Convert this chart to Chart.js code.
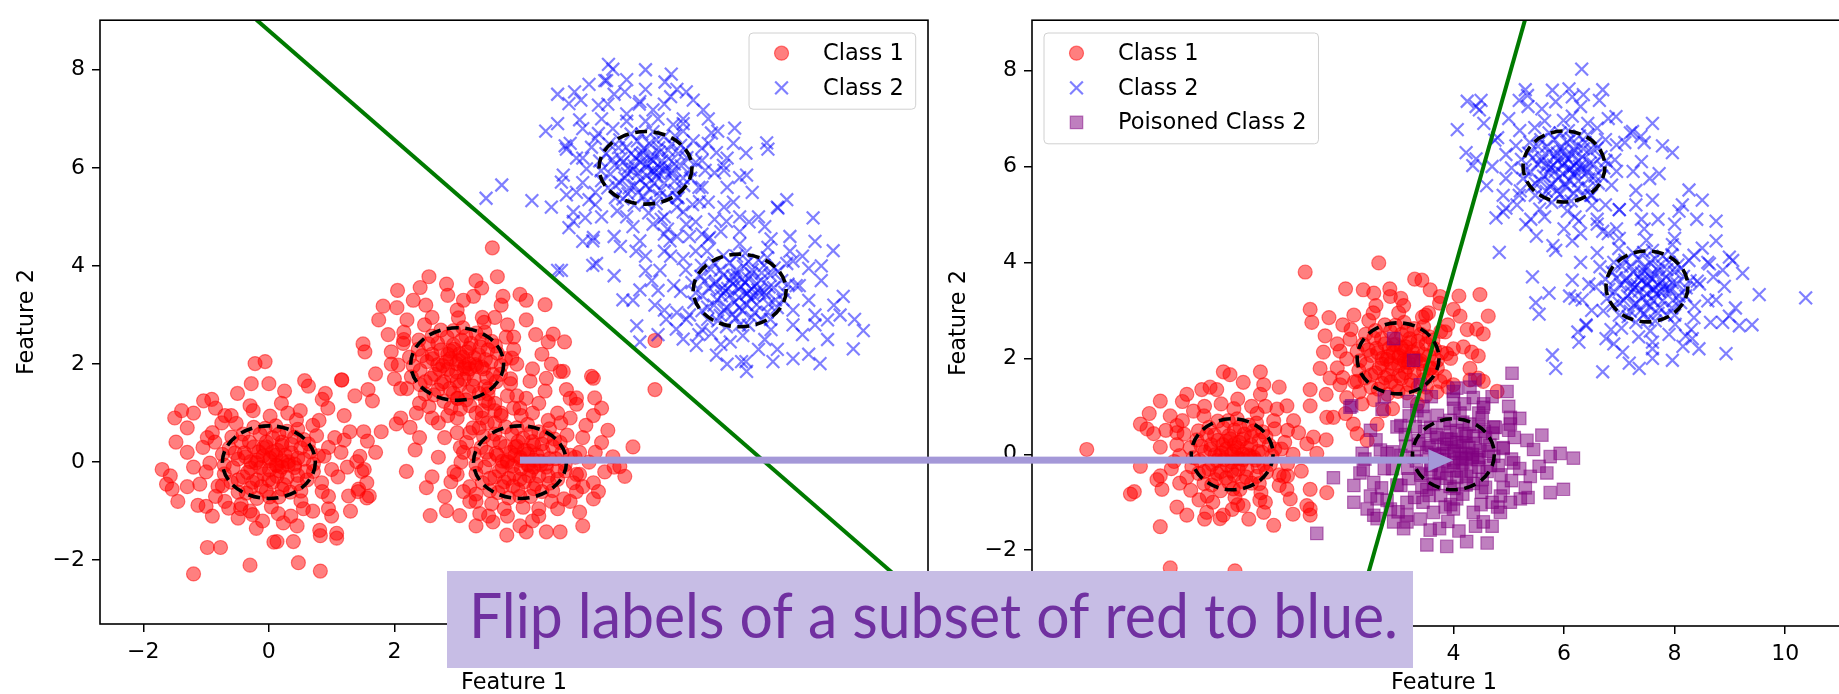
<!DOCTYPE html>
<html>
<head>
<meta charset="utf-8">
<script src="https://cdn.jsdelivr.net/npm/chart.js@4.4.1/dist/chart.umd.min.js"></script>
<style>
  html, body { margin: 0; padding: 0; background: #fff; width: 1839px; height: 694px; overflow: hidden; }
  canvas { position: absolute; top: 0; }
  #leftChart { left: 0; }
  #rightChart { left: 932px; }
  #overlay { left: 0; pointer-events: none; }
</style>
</head>
<body>
<canvas id="leftChart" width="960" height="694"></canvas>
<canvas id="rightChart" width="940" height="694"></canvas>
<canvas id="overlay" width="1839" height="694"></canvas>
<script>
// ---- data ----
const xTicks = [-2, 0, 2, 4, 6, 8, 10];
const yTicks = [-2, 0, 2, 4, 6, 8];
const leftXRange = [-2.69, 10.5];
const leftYRange = [-3.3, 9.01];
const rightXRange = [-3.62, 11.28];
const rightYRange = [-3.58, 9.05];

const clusterCenters = [[0, 0], [3, 2], [4, 0], [6, 6], [7.5, 3.5]];
const ringRadius = 0.74;

const leftBoundary = [[-0.2, 9.02], [10.6, -3.0]];
const rightBoundary = [[5.33, 9.2], [2.15, -3.75]];

const arrowFrom = [4, 0];  // left plot
const arrowTo = [4, 0];    // right plot
const calloutText = 'Flip labels of a subset of red to blue.';

const leftClass1 = [
  [-1.2,-2.28],[-0.98,-1.74],[-0.77,-1.74],[-0.3,-2.1],[0.47,-2.05],[0.82,-2.22],[0.13,-1.62],[0.39,-1.62],[0.82,-1.5],[1.08,-1.55],
  [0.57,1.66],[1.16,1.67],[-0.22,2.01],[-0.06,2.05],[-0.28,1.6],[0.0,1.6],[-1.39,1.05],[-1.04,1.25],[-0.91,1.28],[-1.48,0.41],
  [-1.7,-0.15],[-1.57,-0.28],[-1.63,-0.45],[-1.54,-0.55],[-1.13,-0.88],[-1.0,-0.9],[1.29,0.62],[1.51,0.62],[1.79,0.62],[1.57,0.43],
  [1.45,0.12],[1.52,-0.15],[1.56,-0.42],[1.6,-0.69],[1.27,-0.69],[1.43,-0.55],[0.63,1.55],[0.85,1.28],[0.94,1.1],[-0.26,-1.07],
  [0.23,-1.24],[0.08,-1.63],[-0.49,-1.14],[-0.64,-0.94],[-0.74,-0.48],[1.4,0.01],[1.48,-0.19],[1.42,-0.6],[1.56,-0.73],[0.81,-1.39],[1.08,-1.45],
  [-1.05,0.3],[-1.2,-0.1],[-0.9,0.6],[-0.6,0.95],[-0.3,1.15],[0.2,1.2],[0.5,1.05],[0.8,0.85],[1.05,0.5],[1.15,0.2],[1.1,-0.3],
  [0.95,-0.7],[0.7,-1.0],[0.35,-1.1],[-0.1,-1.2],[-0.45,-0.95],[-0.85,-0.7],[-1.1,-0.45],[-0.75,0.8],[0.95,-0.95],[1.2,0.95],[-1.3,0.7],
  [0.95,0.3],[1.0,-0.15],[0.85,-0.6],[0.55,-0.95],[0.15,-1.05],[-0.3,-1.0],[-0.7,-0.8],[-1.0,-0.2],[-0.98,0.5],[-0.7,0.95],
  [-0.25,1.05],[0.3,1.0],[0.7,0.75],[1.25,-0.1],[1.2,0.45],[-1.3,0.2],[-1.3,-0.5],[-0.9,-1.1],[-0.2,-1.35],[0.45,-1.3],
  [1.0,-1.1],[-1.5,0.9],[-0.5,1.4],[0.9,1.4],[-1.45,-0.8],[1.7,0.2],[-0.85,1.1],[0.25,1.45],[1.3,-1.0],[-1.2,1.0],
  [0.02,0.08],[-0.18,0.04],[0.17,-0.18],[-0.08,-0.24],[0.26,0.14],[-0.04,0.31],[0.31,-0.06],[-0.29,-0.12],[0.46,0.08],[0.36,0.36],
  [0.06,0.5],[-0.31,0.41],[-0.49,0.06],[-0.41,-0.3],[-0.12,-0.5],[0.24,-0.46],[0.46,-0.27],[0.14,0.24],[0.66,0.21],[0.56,0.46],
  [0.29,0.63],[-0.06,0.69],[-0.41,0.57],[-0.63,0.29],[-0.71,-0.06],[-0.6,-0.41],[-0.36,-0.63],[0.01,-0.71],[0.34,-0.61],[0.61,-0.36],
  [0.71,-0.04],[0.11,-0.06],[-0.16,0.21],[0.21,0.41],[-0.26,-0.41],[0.41,-0.11],[-0.39,0.19],[0.0,-0.36],[0.21,-0.1],[0.88,0.12],
  [0.76,0.54],[0.44,0.86],[0.02,0.94],[-0.52,0.79],[-0.86,0.41],[-0.94,-0.02],[-0.81,-0.49],[-0.44,-0.86],[0.04,-0.91],[0.51,-0.79],[0.84,-0.42],
  [0.11,0.14],[-0.09,0.13],[0.13,-0.07],[-0.13,-0.11],[0.01,-0.16],[0.21,0.03],[-0.21,-0.01],[0.06,0.21],[0.36,0.19],[0.21,0.34],
  [-0.04,0.41],[-0.24,0.31],[-0.37,0.11],[-0.34,-0.21],[-0.19,-0.36],[0.06,-0.41],[0.29,-0.31],[0.41,-0.04],[0.56,0.06],[0.51,0.29],
  [0.41,0.51],[0.16,0.57],[-0.14,0.57],[-0.44,0.41],[-0.54,0.19],[-0.57,-0.11],[-0.49,-0.36],[-0.29,-0.53],[-0.04,-0.59],[0.21,-0.55],
  [0.46,-0.44],[0.59,-0.19],[0.63,0.37],[0.46,0.67],[0.11,0.74],[-0.24,0.71],[-0.59,0.51],[-0.74,0.16],[-0.71,-0.24],[-0.49,-0.61],
  [-0.19,-0.74],[0.16,-0.71],[0.51,-0.59],[0.71,-0.19],[0.79,0.13],[0.31,0.01],[-0.09,0.29],[0.13,-0.29],[-0.29,0.01],[0.01,0.03],
  [3.56,4.37],[3.64,3.78],[2.55,3.78],[2.83,3.63],[2.41,3.56],[1.82,3.18],[2.04,3.15],[3.39,3.55],[3.26,3.38],[3.73,3.38],
  [4.0,3.42],[4.4,3.21],[4.53,2.61],[4.71,2.45],[4.45,2.45],[1.5,2.41],[1.53,2.25],[1.16,1.68],[1.37,1.35],[1.58,1.48],
  [4.69,1.85],[5.14,1.75],[4.9,1.31],[5.19,1.31],[6.15,2.48],[6.15,1.48],
  [2.2,2.9],[2.5,3.2],[3.0,3.1],[3.4,2.95],[3.8,2.8],[3.9,2.3],[3.85,1.7],[2.15,2.5],[1.95,2.0],[2.1,1.5],[2.4,1.2],[3.6,1.2],
  [4.2,1.9],[2.3,3.3],[4.1,2.9],[1.9,2.6],[1.7,1.8],[4.35,2.2],
  [3.95,2.0],[3.9,2.55],[3.6,2.95],[3.1,3.3],[2.6,2.95],[2.15,2.65],[1.95,2.25],[2.0,1.7],[2.35,1.0],[2.85,0.95],
  [3.4,1.05],[3.95,1.35],[4.25,2.6],[4.5,2.0],[2.85,3.4],[3.3,3.7],[1.75,2.9],[1.65,1.25],[2.1,0.9],[4.1,3.3],[3.7,3.2],[2.05,3.5],
  [3.03,2.07],[2.83,2.05],[3.16,1.81],[2.91,1.77],[3.27,2.13],[2.95,2.3],[3.31,1.95],[2.72,1.89],[3.45,2.09],[3.37,2.35],
  [3.07,2.49],[2.69,2.42],[2.52,2.05],[2.58,1.71],[2.88,1.5],[3.25,1.55],[3.47,1.72],[3.15,2.25],[3.64,2.22],[3.55,2.46],
  [3.3,2.63],[2.94,2.68],[2.6,2.57],[2.38,2.3],[2.3,1.96],[2.41,1.58],[2.63,1.37],[3.01,1.3],[3.35,1.4],[3.62,1.64],
  [3.7,1.97],[3.12,1.95],[2.85,2.2],[3.22,2.42],[2.75,1.6],[3.42,1.9],[2.6,2.2],[3.0,1.65],[3.2,1.9],[3.87,2.12],
  [3.78,2.55],[3.43,2.85],[3.02,2.94],[2.48,2.8],[2.14,2.42],[2.06,1.98],[2.2,1.5],[2.55,1.13],[3.05,1.08],[3.5,1.2],[3.85,1.6],
  [3.09,2.14],[2.89,2.11],[3.11,1.91],[2.85,1.89],[2.99,1.84],[3.19,2.01],[2.77,1.97],[3.04,2.21],[3.34,2.19],[3.19,2.32],
  [2.94,2.39],[2.74,2.29],[2.61,2.11],[2.64,1.79],[2.79,1.64],[3.04,1.57],[3.27,1.69],[3.39,1.94],[3.54,2.04],[3.49,2.29],
  [3.39,2.49],[3.14,2.57],[2.84,2.55],[2.54,2.41],[2.44,2.17],[2.41,1.87],[2.49,1.64],[2.69,1.47],[2.94,1.41],[3.19,1.43],
  [3.44,1.54],[3.57,1.79],[3.61,2.37],[3.44,2.65],[3.09,2.74],[2.74,2.69],[2.39,2.49],[2.24,2.14],[2.27,1.74],[2.49,1.39],
  [2.79,1.24],[3.14,1.27],[3.49,1.39],[3.69,1.79],[3.77,2.11],[3.29,1.99],[2.89,2.27],[3.11,1.69],[2.69,1.99],[2.99,2.01],
  [3.3,1.0],[3.6,0.8],[3.0,1.3],[3.5,1.5],[2.8,0.5],[3.2,0.6],[3.9,1.1],[2.6,0.9],[3.1,0.2],[2.7,0.1],[4.3,1.2],[4.6,1.0],[2.9,-0.4],[2.4,0.5],
  [3.4,0.9],[3.7,0.95],[3.2,1.15],[3.45,1.25],[3.8,1.35],[4.1,1.3],[3.0,0.9],[2.9,1.1],[3.35,0.7],[4.0,1.1],[4.4,1.45],[3.6,1.05],
  [2.19,-0.19],[2.51,-0.52],[2.33,0.25],[2.03,0.78],[2.25,0.71],[2.57,-1.09],[2.83,-0.99],[3.04,-1.09],[3.36,-1.05],[3.57,-1.22],
  [3.79,-1.49],[4.1,-1.42],[4.42,-1.42],[4.64,-1.42],[4.95,-1.02],[5.17,-0.75],[5.17,-0.42],[5.67,-0.29],[5.8,0.31],[5.48,0.11],
  [5.59,-0.09],[5.17,1.71],[5.17,0.95],[4.64,1.85],[4.74,1.48],[4.9,1.18],[4.42,1.71],[4.16,1.65],
  [5.0,0.5],[5.1,0.0],[5.0,-0.5],[4.8,0.9],[3.3,-0.8],[3.1,-0.6],[4.3,-1.1],[3.8,-1.1],[4.8,-0.8],[5.3,0.4],[2.6,-0.3],[5.35,-0.2],
  [4.9,-0.6],[4.6,-0.95],[4.2,-1.2],[3.5,-1.1],[3.2,-0.8],[2.95,-0.2],[5.2,0.2],[5.05,0.75],[4.9,-0.25],[3.0,0.6],
  [4.95,0.2],[4.95,-0.25],[4.7,-0.75],[4.3,-0.95],[3.75,-0.95],[3.3,-0.65],[3.0,-0.25],[3.05,0.3],[3.25,0.7],[3.7,1.0],
  [4.2,1.0],[4.65,0.8],[5.25,-0.6],[5.4,0.65],[4.0,-1.3],[3.3,-1.3],[2.8,-0.7],[5.0,-1.3],[4.8,1.3],[5.5,-0.1],[2.7,0.8],[5.3,1.1],
  [4.01,0.09],[3.8,0.03],[4.18,-0.17],[3.91,-0.25],[4.27,0.15],[3.95,0.32],[4.33,-0.05],[3.72,-0.1],[4.47,0.07],[4.35,0.37],
  [4.05,0.49],[3.68,0.4],[3.51,0.05],[3.6,-0.3],[3.89,-0.49],[4.25,-0.45],[4.45,-0.28],[4.15,0.23],[4.67,0.2],[4.55,0.47],
  [4.3,0.62],[3.95,0.7],[3.6,0.57],[3.38,0.3],[3.3,-0.05],[3.4,-0.42],[3.65,-0.62],[4.0,-0.7],[4.35,-0.6],[4.6,-0.35],
  [4.72,-0.05],[4.12,-0.05],[3.85,0.2],[4.2,0.42],[3.75,-0.4],[4.42,-0.1],[3.62,0.18],[4.0,-0.35],[4.22,-0.1],[4.88,0.1],
  [4.75,0.55],[4.45,0.85],[4.02,0.95],[3.48,0.8],[3.15,0.4],[3.06,0.0],[3.2,-0.5],[3.55,-0.85],[4.05,-0.92],[4.5,-0.8],[4.85,-0.42],
  [4.12,0.17],[3.92,0.14],[4.14,-0.06],[3.88,-0.08],[4.02,-0.13],[4.22,0.04],[3.8,0.0],[4.07,0.24],[4.37,0.22],[4.22,0.35],
  [3.97,0.42],[3.77,0.32],[3.64,0.14],[3.67,-0.18],[3.82,-0.33],[4.07,-0.4],[4.3,-0.28],[4.42,-0.03],[4.57,0.07],[4.52,0.32],
  [4.42,0.52],[4.17,0.6],[3.87,0.58],[3.57,0.44],[3.47,0.2],[3.44,-0.1],[3.52,-0.33],[3.72,-0.5],[3.97,-0.56],[4.22,-0.54],
  [4.47,-0.43],[4.6,-0.18],[4.64,0.4],[4.47,0.68],[4.12,0.77],[3.77,0.72],[3.42,0.52],[3.27,0.17],[3.3,-0.23],[3.52,-0.58],
  [3.82,-0.73],[4.17,-0.7],[4.52,-0.58],[4.72,-0.18],[4.8,0.14],[4.32,0.02],[3.92,0.3],[4.14,-0.28],[3.72,0.02],[4.02,0.04]
];

const leftClass2 = [
  [5.48,8.01],[5.38,7.78],[6.41,7.91],[6.31,7.75],[6.65,7.55],[6.76,7.38],[5.67,7.55],[5.91,7.35],[6.12,7.18],[4.87,7.55],
  [5.25,7.28],[4.95,6.98],[6.92,7.18],[7.05,6.71],[7.42,6.81],[7.93,6.51],[7.95,6.38],[7.61,5.85],[7.13,6.31],[7.24,6.05],
  [4.74,6.38],[4.69,5.85],[4.74,5.45],[4.85,4.91],[5.17,4.58],[5.22,4.05],[4.66,3.91],[3.46,5.38],[3.71,5.65],[4.19,5.33],
  [4.41,6.75],[4.6,3.91],[5.16,4.01],[4.78,7.31],[4.97,7.38],[4.72,6.45],[4.66,5.71],[4.78,4.78],[5.16,4.51],[5.04,4.98],
  [5.41,8.11],[5.35,7.78],[6.86,5.31],[7.29,4.91],[7.02,4.58],[6.65,4.85],[6.39,4.51],[6.12,4.85],[5.91,4.51],
  [5.3,7.0],[5.7,7.1],[6.3,7.3],[6.6,7.0],[7.0,6.5],[7.3,6.2],[7.3,5.6],[7.0,5.3],[6.8,4.9],[6.3,5.0],
  [5.8,4.8],[5.3,5.0],[4.9,5.5],[4.9,6.2],[5.0,6.8],[5.5,7.5],[6.0,7.6],[6.6,6.9],[5.2,6.6],[7.1,5.9],
  [5.1,7.7],[5.7,7.8],[6.0,8.0],[6.5,7.6],[7.0,7.0],[7.6,6.3],[4.6,6.9],[4.5,5.2],[5.0,4.5],
  [6.95,5.95],[6.9,6.4],[6.6,6.75],[6.2,7.0],[5.7,6.95],[5.25,6.7],[5.0,6.2],[5.0,5.7],[5.2,5.25],[5.7,5.0],
  [6.25,4.95],[6.75,5.25],[7.25,5.95],[7.15,6.75],[6.4,7.45],[5.4,7.3],[4.8,6.5],[4.85,5.1],[5.5,4.6],[6.9,4.65],
  [7.5,5.8],[5.9,7.3],[4.6,7.5],[7.4,6.5],[5.85,4.3],[6.5,5.4],[6.35,4.75],[5.1,5.35],
  [6.02,6.08],[5.82,6.04],[6.17,5.82],[5.92,5.76],[6.26,6.14],[5.96,6.31],[6.31,5.94],[5.71,5.88],[6.46,6.08],[6.36,6.36],
  [6.06,6.5],[5.69,6.41],[5.51,6.06],[5.59,5.7],[5.88,5.5],[6.24,5.54],[6.46,5.73],[6.14,6.24],[6.66,6.21],[6.56,6.46],
  [6.29,6.63],[5.94,6.69],[5.59,6.57],[5.37,6.29],[5.29,5.94],[5.4,5.59],[5.64,5.37],[6.01,5.29],[6.34,5.39],[6.61,5.64],
  [6.71,5.96],[6.11,5.94],[5.84,6.21],[6.21,6.41],[5.74,5.59],[6.41,5.89],[5.61,6.19],[6.0,5.64],[6.21,5.9],[6.9,6.15],
  [6.76,6.55],[6.44,6.88],[6.0,6.95],[5.48,6.8],[5.14,6.42],[5.06,5.98],[5.2,5.5],[5.55,5.12],[6.05,5.08],[6.5,5.2],[6.85,5.6],
  [6.12,6.14],[5.92,6.11],[6.14,5.91],[5.88,5.89],[6.02,5.84],[6.22,6.01],[5.8,5.97],[6.07,6.21],[6.37,6.19],[6.22,6.32],
  [5.97,6.39],[5.77,6.29],[5.64,6.11],[5.67,5.79],[5.82,5.64],[6.07,5.57],[6.3,5.69],[6.42,5.94],[6.57,6.04],[6.52,6.29],
  [6.42,6.49],[6.17,6.57],[5.87,6.55],[5.57,6.41],[5.47,6.17],[5.44,5.87],[5.52,5.64],[5.72,5.47],[5.97,5.41],[6.22,5.43],
  [6.47,5.54],[6.6,5.79],[6.64,6.37],[6.47,6.65],[6.12,6.74],[5.77,6.69],[5.42,6.49],[5.27,6.14],[5.3,5.74],[5.52,5.39],
  [5.82,5.24],[6.17,5.27],[6.52,5.39],[6.72,5.79],[6.8,6.11],[6.32,5.99],[5.92,6.27],[6.14,5.69],[5.72,5.99],[6.02,6.01],
  [6.5,4.6],[6.8,4.3],[7.1,4.95],[6.6,5.1],[6.9,5.6],[7.4,5.3],[7.7,5.5],[6.3,4.3],[6.0,4.2],[5.6,4.4],
  [5.5,3.8],[5.8,3.3],[6.1,3.7],[7.8,5.0],[8.3,4.3],[8.8,4.0],[9.0,3.2],[8.9,2.9],[8.6,2.2],[7.3,2.0],
  [5.64,3.31],[5.91,3.51],[5.86,2.78],[6.33,2.91],[6.23,3.91],[5.91,2.45],[6.6,2.51],[6.81,2.38],[7.13,2.18],[7.61,1.85],
  [7.53,2.05],[8.03,2.05],[8.35,2.11],[8.78,2.01],[9.31,2.31],[9.47,2.68],[9.33,2.91],[9.15,3.38],[8.99,4.31],[8.67,4.98],
  [8.25,5.35],[8.11,5.18],[6.49,2.71],[6.65,2.91],
  [8.6,3.3],[8.8,3.7],[8.5,4.2],[8.3,4.6],[7.9,4.8],[7.5,5.0],[7.2,4.7],[6.4,4.2],[6.2,3.5],[6.3,3.1],
  [8.9,2.5],[8.5,2.6],[7.8,2.3],[7.2,2.4],[6.9,2.7],[8.1,5.2],[8.7,3.0],[6.0,3.9],
  [8.45,3.6],[8.35,4.1],[8.0,4.55],[7.5,4.7],[7.0,4.55],[6.6,4.15],[6.45,3.6],[6.5,3.05],[6.85,2.6],[7.35,2.45],
  [7.9,2.5],[8.35,2.8],[8.6,3.95],[8.7,2.8],[6.15,3.2],[6.7,4.6],[7.65,4.9],[8.7,4.5],[6.2,2.6],[7.6,2.05],
  [8.1,2.3],[9.1,3.0],[6.3,4.65],[7.25,5.2],
  [7.52,3.58],[7.31,3.54],[7.68,3.33],[7.42,3.26],[7.77,3.64],[7.46,3.81],[7.82,3.45],[7.21,3.39],[7.97,3.57],[7.85,3.86],
  [7.56,3.99],[7.19,3.91],[7.01,3.55],[7.09,3.2],[7.38,3.01],[7.74,3.05],[7.96,3.22],[7.64,3.74],[8.17,3.7],[8.05,3.96],
  [7.8,4.12],[7.45,4.2],[7.09,4.06],[6.88,3.79],[6.8,3.45],[6.9,3.09],[7.15,2.88],[7.5,2.8],[7.85,2.9],[8.1,3.15],
  [8.22,3.46],[7.62,3.44],[7.35,3.7],[7.7,3.92],[7.25,3.1],[7.92,3.4],[7.12,3.68],[7.5,3.15],[7.72,3.4],[8.4,3.6],
  [8.25,4.05],[7.95,4.38],[7.5,4.45],[6.98,4.3],[6.64,3.92],[6.56,3.48],[6.7,3.0],[7.05,2.62],[7.55,2.58],[8.0,2.7],[8.35,3.1],
  [7.59,3.66],[7.39,3.63],[7.61,3.43],[7.35,3.41],[7.49,3.36],[7.69,3.53],[7.27,3.49],[7.54,3.73],[7.84,3.71],[7.69,3.84],
  [7.44,3.91],[7.24,3.81],[7.11,3.63],[7.14,3.31],[7.29,3.16],[7.54,3.09],[7.77,3.21],[7.89,3.46],[8.04,3.56],[7.99,3.81],
  [7.89,4.01],[7.64,4.09],[7.34,4.07],[7.04,3.93],[6.94,3.69],[6.91,3.39],[6.99,3.16],[7.19,2.99],[7.44,2.93],[7.69,2.95],
  [7.94,3.06],[8.07,3.31],[8.11,3.89],[7.94,4.17],[7.59,4.26],[7.24,4.21],[6.89,4.01],[6.74,3.66],[6.77,3.26],[6.99,2.91],
  [7.29,2.76],[7.64,2.79],[7.99,2.91],[8.19,3.31],[8.27,3.63],[7.79,3.51],[7.39,3.79],[7.61,3.21],[7.19,3.51],[7.49,3.53]
];

const rightClass1 = [
  [-2.63,0.1],[-1.84,-0.83],[-1.3,-1.51],[-1.66,-0.25],[-1.36,-0.53],[-1.27,-0.73],[-1.66,0.63],[-1.54,0.53],[-1.42,0.43],[-1.3,1.11],
  [-1.12,0.8],[-1.0,0.6],[-0.82,1.25],[-0.55,1.35],[-0.28,1.35],[-0.16,1.72],[-0.04,1.66],[0.51,1.72],[0.57,1.45],[0.51,1.25],
  [0.81,0.94],[0.99,1.01],[1.11,0.7],[1.35,0.22],[1.53,0.02],[1.41,-0.73],[1.71,-0.8],[1.35,-1.07],[1.41,-1.27],[0.75,-1.48],
  [0.57,-1.21],[0.2,-1.07],[-0.16,-1.27],[-0.46,-1.21],[-0.82,-1.27],[0.99,-0.73],[1.05,-0.93],[0.93,-0.46],[-1.12,-2.37],[0.05,-2.43],
  [1.41,-1.14],[-0.22,-1.34],[1.47,0.36],[-1.77,-0.78],
  [-1.0,0.2],[-1.1,-0.3],[-0.9,0.7],[-0.5,1.0],[0.1,1.15],[0.6,1.0],[1.0,0.5],[1.1,0.0],[1.0,-0.45],[0.6,-1.0],
  [0.0,-1.15],[-0.6,-0.95],[-0.95,-0.6],[-1.2,0.5],
  [0.95,0.25],[1.0,-0.2],[0.85,-0.65],[0.5,-0.95],[0.1,-1.05],[-0.35,-1.0],[-0.75,-0.75],[-1.05,-0.15],[-1.0,0.45],[-0.7,0.9],
  [-0.2,1.05],[0.35,1.0],[0.75,0.7],[1.25,-0.35],[1.2,0.45],[-1.3,0.15],[-1.3,-0.45],[-0.5,-1.35],[0.3,-1.35],[1.1,-1.25],
  [-1.5,0.85],[-0.4,1.4],[0.85,1.4],[1.7,0.3],[-0.9,1.1],[0.2,1.5],[-1.0,-1.1],
  [0.03,0.06],[-0.19,0.03],[0.16,-0.19],[-0.09,-0.23],[0.27,0.13],[-0.03,0.32],[0.32,-0.04],[-0.28,-0.13],[0.47,0.06],[0.35,0.37],
  [0.04,0.51],[-0.32,0.4],[-0.5,0.05],[-0.42,-0.31],[-0.11,-0.49],[0.25,-0.47],[0.47,-0.26],[0.13,0.25],[0.67,0.19],[0.55,0.47],
  [0.3,0.61],[-0.07,0.7],[-0.42,0.56],[-0.64,0.3],[-0.7,-0.07],[-0.61,-0.4],[-0.37,-0.64],[0.02,-0.72],[0.35,-0.6],[0.62,-0.37],
  [0.72,-0.03],[0.1,-0.07],[-0.17,0.2],[0.22,0.42],[-0.27,-0.4],[0.42,-0.12],[-0.38,0.2],[-0.01,-0.35],[0.2,-0.11],[0.89,0.11],
  [0.77,0.53],[0.45,0.85],[0.03,0.95],[-0.51,0.8],[-0.87,0.42],[-0.95,-0.03],[-0.82,-0.48],[-0.45,-0.87],[0.05,-0.9],[0.52,-0.8],[0.85,-0.43],
  [0.09,0.14],[-0.11,0.11],[0.11,-0.09],[-0.15,-0.11],[-0.01,-0.16],[0.19,0.01],[-0.23,-0.03],[0.04,0.21],[0.34,0.19],[0.19,0.32],
  [-0.06,0.39],[-0.26,0.29],[-0.39,0.11],[-0.36,-0.21],[-0.21,-0.36],[0.04,-0.43],[0.27,-0.31],[0.39,-0.06],[0.54,0.04],[0.49,0.29],
  [0.39,0.49],[0.14,0.57],[-0.16,0.55],[-0.46,0.41],[-0.56,0.17],[-0.59,-0.13],[-0.51,-0.36],[-0.31,-0.53],[-0.06,-0.59],[0.19,-0.57],
  [0.44,-0.46],[0.57,-0.21],[0.61,0.37],[0.44,0.65],[0.09,0.74],[-0.26,0.69],[-0.61,0.49],[-0.76,0.14],[-0.73,-0.26],[-0.51,-0.61],
  [-0.21,-0.76],[0.14,-0.73],[0.49,-0.61],[0.69,-0.21],[0.77,0.11],[0.29,-0.01],[-0.11,0.27],[0.11,-0.31],[-0.31,-0.01],[-0.01,0.01],
  [1.32,3.8],[2.65,3.99],[1.41,3.02],[1.44,2.75],[2.37,3.43],[2.56,3.36],[2.86,3.29],[3.43,3.63],[3.58,3.43],[3.76,3.29],
  [4.48,3.33],[4.63,2.88],[4.42,2.61],[4.54,2.51],[4.18,2.24],[4.33,2.13],[4.3,1.79],[1.68,2.47],[1.65,2.13],[1.59,1.79],
  [1.77,1.59],[1.41,1.35],[1.41,1.01],[1.71,0.77],[1.83,0.77],[2.19,0.63],[2.44,0.29],[2.26,0.43],[2.07,1.18],[1.95,1.45],
  [2.26,1.52],[2.62,0.63],[2.74,0.91],[3.58,1.79],[3.76,1.52],[4.0,1.45],[4.45,1.59],[4.54,1.52],[4.79,1.31],[4.0,3.02],[4.12,2.88],
  [2.2,2.9],[2.6,3.1],[3.1,3.1],[3.5,2.9],[3.9,2.7],[4.0,2.2],[1.9,2.3],[1.9,1.8],[2.3,1.3],[3.7,1.3],[2.0,2.7],
  [3.95,2.0],[3.85,2.55],[3.55,2.95],[3.05,3.25],[2.55,2.95],[2.15,2.6],[1.95,2.15],[2.0,1.6],[2.35,1.05],[2.9,0.95],
  [3.35,1.05],[3.9,1.4],[4.25,2.6],[4.45,2.05],[2.85,3.45],[3.3,3.65],[1.75,2.85],[1.7,1.25],[2.05,0.85],[4.1,3.3],
  [3.75,3.15],[2.05,3.45],[4.3,1.55],
  [3.02,2.06],[2.82,2.04],[3.17,1.82],[2.9,1.78],[3.26,2.14],[2.96,2.29],[3.32,1.96],[2.71,1.88],[3.46,2.08],[3.36,2.36],
  [3.06,2.5],[2.7,2.41],[2.51,2.06],[2.59,1.7],[2.87,1.51],[3.24,1.54],[3.46,1.73],[3.14,2.24],[3.66,2.2],[3.56,2.45],
  [3.29,2.62],[2.95,2.69],[2.59,2.58],[2.37,2.29],[2.31,1.95],[2.4,1.59],[2.64,1.36],[3.0,1.31],[3.36,1.41],[3.61,1.65],
  [3.71,1.96],[3.11,1.96],[2.84,2.21],[3.21,2.41],[2.76,1.6],[3.41,1.89],[2.61,2.21],[3.01,1.64],[3.19,1.91],[3.88,2.1],
  [3.77,2.56],[3.44,2.86],[3.01,2.95],[2.47,2.79],[2.13,2.4],[2.07,1.99],[2.21,1.51],[2.56,1.14],[3.5,1.22],[3.84,1.62],
  [3.11,2.15],[2.91,2.12],[3.13,1.92],[2.87,1.9],[3.01,1.85],[3.21,2.02],[2.79,1.98],[3.06,2.22],[3.36,2.2],[3.21,2.33],
  [2.96,2.4],[2.76,2.3],[2.63,2.12],[2.66,1.8],[2.81,1.65],[3.06,1.58],[3.29,1.7],[3.41,1.95],[3.56,2.05],[3.51,2.3],
  [3.41,2.5],[3.16,2.58],[2.86,2.56],[2.56,2.42],[2.46,2.18],[2.43,1.88],[2.51,1.65],[2.71,1.48],[2.96,1.42],[3.21,1.44],
  [3.46,1.55],[3.59,1.8],[3.63,2.38],[3.46,2.66],[3.11,2.75],[2.76,2.7],[2.41,2.5],[2.26,2.15],[2.29,1.75],[2.51,1.4],
  [2.81,1.25],[3.16,1.28],[3.51,1.4],[3.71,1.8],[3.79,2.12],[3.31,2.0],[2.91,2.28],[3.13,1.7],[2.71,2.0],[3.01,2.02]
];

const rightClass2 = [
  [6.32,8.03],[5.79,7.59],[6.09,7.62],[6.15,7.45],[5.34,7.48],[5.19,7.38],[4.5,7.38],[4.47,7.18],[4.41,7.25],[4.07,6.77],
  [4.23,6.29],[4.41,6.16],[4.35,6.02],[4.83,4.21],[7.96,6.29],[7.72,5.85],[7.78,6.43],[7.24,6.73],[7.39,6.63],[6.64,7.38],
  [6.94,7.04],[6.15,4.45],[5.85,4.25],[6.27,4.86],[5.31,4.79],[4.77,4.93],[4.95,5.13],[5.19,5.4],[4.25,7.36],
  [5.0,7.0],[5.6,7.2],[6.3,7.25],[6.8,7.0],[7.1,6.5],[7.4,6.1],[7.3,5.5],[7.0,5.1],[6.6,4.8],[6.0,4.7],
  [5.4,4.9],[4.9,5.4],[4.7,6.0],[4.8,6.6],[5.3,7.6],[6.7,7.6],[7.6,6.9],[7.6,5.3],
  [6.95,5.9],[6.95,6.45],[6.6,6.8],[6.15,7.05],[5.65,6.95],[5.2,6.75],[4.95,6.25],[4.95,5.75],[5.15,5.2],[5.65,4.95],
  [6.2,4.95],[6.75,5.2],[7.25,5.9],[7.2,6.7],[6.35,7.5],[5.35,7.25],[4.75,6.55],[4.9,5.05],[5.5,4.55],[6.95,4.7],
  [7.55,5.75],[5.85,7.35],[4.55,6.9],[7.45,6.5],[5.8,4.35],[6.5,5.4],[4.6,5.6],
  [6.01,6.07],[5.81,6.03],[6.18,5.83],[5.91,5.77],[6.27,6.13],[5.97,6.32],[6.32,5.95],[5.72,5.87],[6.47,6.07],[6.35,6.37],
  [6.05,6.51],[5.68,6.42],[5.52,6.05],[5.58,5.69],[5.87,5.49],[6.25,5.55],[6.45,5.74],[6.13,6.25],[6.67,6.2],[6.57,6.47],
  [6.28,6.64],[5.93,6.7],[5.58,6.56],[5.36,6.28],[5.3,5.93],[5.41,5.58],[5.65,5.36],[6.02,5.28],[6.35,5.38],[6.62,5.65],
  [6.72,5.97],[6.1,5.95],[5.83,6.22],[6.22,6.42],[5.75,5.58],[6.42,5.88],[5.6,6.2],[6.01,5.63],[6.2,5.89],[6.92,6.14],
  [6.75,6.56],[6.43,6.9],[5.99,6.96],[5.47,6.81],[5.13,6.43],[5.05,5.97],[5.21,5.49],[5.56,5.11],[6.06,5.07],[6.51,5.19],[6.86,5.61],
  [6.08,6.15],[5.88,6.12],[6.1,5.92],[5.84,5.9],[5.98,5.85],[6.18,6.02],[5.76,5.98],[6.03,6.22],[6.33,6.2],[6.18,6.33],
  [5.93,6.4],[5.73,6.3],[5.6,6.12],[5.63,5.8],[5.78,5.65],[6.03,5.58],[6.26,5.7],[6.38,5.95],[6.53,6.05],[6.48,6.3],
  [6.38,6.5],[6.13,6.58],[5.83,6.56],[5.53,6.42],[5.43,6.18],[5.4,5.88],[5.48,5.65],[5.68,5.48],[5.93,5.42],[6.18,5.44],
  [6.43,5.55],[6.56,5.8],[6.6,6.38],[6.43,6.66],[6.08,6.75],[5.73,6.7],[5.38,6.5],[5.23,6.15],[5.26,5.75],[5.48,5.4],
  [5.78,5.25],[6.13,5.28],[6.48,5.4],[6.68,5.8],[6.76,6.12],[6.28,6.0],[5.88,6.28],[6.1,5.7],[5.68,6.0],[5.98,6.02],
  [5.43,3.7],[5.49,3.16],[5.55,2.92],[5.73,3.36],[5.79,2.07],[5.85,1.79],[6.7,1.72],[7.18,1.9],[7.36,1.79],[7.96,1.96],
  [8.32,2.41],[8.93,2.1],[9.17,2.68],[8.99,2.88],[9.23,3.77],[8.99,4.11],[8.75,4.86],[8.5,5.3],[8.26,5.51],[9.53,3.33],
  [10.37,3.26],[8.14,5.2],[8.08,5.07],[6.15,3.63],[6.33,3.22],[6.4,2.68],[6.27,2.34],[6.76,2.41],[7.06,2.13],[7.6,2.34],
  [8.2,2.47],[8.44,2.2],[8.87,2.75],[8.75,3.22],[8.63,3.97],[8.87,3.84],[9.05,4.04],
  [8.6,3.2],[8.7,3.7],[8.5,4.3],[8.0,4.8],[7.4,4.9],[6.8,4.6],[6.3,4.0],[6.1,3.3],[6.4,2.7],[6.9,2.3],
  [7.6,2.2],[8.3,2.6],[8.9,3.5],[7.0,5.1],[8.4,4.9],[6.6,4.9],
  [8.45,3.55],[8.35,4.15],[8.0,4.5],[7.45,4.7],[7.0,4.5],[6.6,4.2],[6.45,3.55],[6.5,3.0],[6.85,2.6],[7.35,2.45],
  [7.9,2.5],[8.35,2.85],[8.6,4.0],[8.65,2.75],[6.2,3.25],[6.7,4.65],[7.7,4.9],[8.75,4.45],[6.25,2.55],[7.6,2.0],
  [8.15,2.25],[9.1,3.05],[6.3,4.6],[7.3,5.2],[9.4,2.7],
  [7.51,3.57],[7.32,3.53],[7.67,3.34],[7.43,3.27],[7.78,3.63],[7.45,3.82],[7.83,3.44],[7.22,3.38],[7.96,3.58],[7.86,3.85],
  [7.55,4.0],[7.2,3.92],[7.02,3.54],[7.08,3.21],[7.39,3.0],[7.73,3.06],[7.97,3.21],[7.63,3.75],[8.16,3.71],[8.06,3.95],
  [7.79,4.13],[7.44,4.21],[7.1,4.05],[6.87,3.8],[6.81,3.44],[6.89,3.1],[7.16,2.87],[7.51,2.81],[7.86,2.89],[8.11,3.16],
  [8.21,3.47],[7.61,3.45],[7.36,3.69],[7.71,3.91],[7.26,3.11],[7.91,3.41],[7.13,3.67],[7.49,3.16],[7.73,3.39],[8.41,3.61],
  [8.26,4.04],[7.96,4.37],[7.49,4.46],[6.99,4.29],[6.65,3.91],[6.57,3.49],[6.71,2.99],[7.04,2.63],[7.56,2.57],[8.01,2.71],[8.36,3.09],
  [7.6,3.65],[7.4,3.62],[7.62,3.42],[7.36,3.4],[7.5,3.35],[7.7,3.52],[7.28,3.48],[7.55,3.72],[7.85,3.7],[7.7,3.83],
  [7.45,3.9],[7.25,3.8],[7.12,3.62],[7.15,3.3],[7.3,3.15],[7.55,3.08],[7.78,3.2],[7.9,3.45],[8.05,3.55],[8.0,3.8],
  [7.9,4.0],[7.65,4.08],[7.35,4.06],[7.05,3.92],[6.95,3.68],[6.92,3.38],[7.0,3.15],[7.2,2.98],[7.45,2.92],[7.7,2.94],
  [7.95,3.05],[8.08,3.3],[8.12,3.88],[7.95,4.16],[7.6,4.25],[7.25,4.2],[6.9,4.0],[6.75,3.65],[6.78,3.25],[7.0,2.9],
  [7.3,2.75],[7.65,2.78],[8.0,2.9],[8.2,3.3],[8.28,3.62],[7.8,3.5],[7.4,3.78],[7.62,3.2],[7.2,3.5],[7.5,3.52]
];

const rightPoisoned = [
  [2.92,2.41],[3.28,1.96],[5.06,1.69],[4.97,1.31],[4.39,1.55],[2.16,1.01],[2.71,0.94],[2.35,0.02],[1.83,-0.49],[2.31,-0.39],
  [2.5,-0.87],[2.44,-1.14],[2.62,-1.34],[2.92,-1.41],[3.16,-1.41],[3.58,-1.58],[3.52,-1.89],[3.88,-1.92],[4.24,-1.82],[4.61,-1.85],
  [4.54,-1.41],[4.85,-1.21],[5.21,-0.93],[5.39,-0.46],[5.33,0.29],[5.03,0.63],[5.03,0.77],[5.75,-0.05],[5.93,0.02],[6.17,-0.08],
  [5.69,-0.39],[5.75,-0.8],[5.99,-0.73],[2.98,0.57],[2.8,0.02],[3.34,0.91],[2.98,-0.64],[3.16,-1.0],[2.8,-0.96],[4.0,1.31],
  [4.36,1.18],[4.54,0.98],[4.73,0.57],[5.09,-0.18],[5.03,-1.0],[4.85,-0.87],[4.36,-1.21],[4.0,-1.14],[3.64,-1.21],[3.52,-0.73],
  [1.53,-1.65],[2.13,0.98],[2.68,0.09],[2.37,-0.32],[2.56,-0.59],[2.62,-0.93],[2.56,-1.27],[2.86,-1.14],[3.16,-1.27],[4.06,1.38],
  [2.9,-0.3],[2.7,-0.7],[3.0,-1.2],[3.4,-1.35],[3.9,-1.4],[4.4,-1.5],[4.8,-1.1],[5.2,-0.3],[5.3,-0.7],[5.0,1.0],
  [4.7,1.2],[3.6,1.2],[3.2,1.1],[2.5,0.5],[2.4,-0.1],[5.45,0.1],[4.1,-1.6],[3.4,1.45],
  [5.0,0.5],[5.05,-0.1],[4.9,-0.7],[4.5,-1.05],[3.95,-1.05],[3.45,-1.0],[3.05,-0.65],[2.9,0.05],[3.05,0.6],[3.45,1.0],
  [4.0,1.15],[4.55,1.05],[5.2,0.75],[5.35,-0.9],[2.75,-0.3],[2.6,0.3],[3.75,-1.55],[4.7,-1.5],[5.55,-0.25],[2.75,1.2],
  [4.3,1.4],[3.1,-1.55],[5.6,0.4],[2.2,-0.65],[2.2,-1.0],
  [4.02,0.07],[3.81,0.02],[4.17,-0.18],[3.9,-0.24],[4.28,0.14],[3.96,0.31],[4.34,-0.06],[3.71,-0.11],[4.48,0.08],[4.36,0.38],
  [4.06,0.5],[3.69,0.41],[3.52,0.04],[3.59,-0.31],[3.88,-0.5],[4.24,-0.46],[4.46,-0.27],[4.16,0.24],[4.66,0.19],[4.56,0.48],
  [4.29,0.63],[3.94,0.71],[3.59,0.56],[3.37,0.29],[3.29,-0.06],[3.41,-0.43],[3.64,-0.63],[4.01,-0.71],[4.36,-0.61],[4.61,-0.36],
  [4.73,-0.04],[4.11,-0.06],[3.84,0.21],[4.21,0.43],[3.74,-0.39],[4.43,-0.11],[3.61,0.19],[4.01,-0.34],[4.23,-0.09],[4.9,0.12],
  [4.76,0.56],[4.46,0.86],[4.01,0.96],[3.47,0.79],[3.13,0.41],[3.05,-0.02],[3.19,-0.51],[3.56,-0.86],[4.06,-0.93],[4.51,-0.79],
  [4.86,-0.43],[5.1,0.35],[5.05,-0.55],[3.3,-0.9],[3.2,0.8],[4.2,1.05],[4.7,-1.0],[3.85,-1.1],
  [4.12,0.17],[3.88,0.14],[4.14,-0.09],[3.84,-0.12],[4.0,-0.17],[4.23,0.02],[3.75,-0.02],[4.06,0.25],[4.4,0.23],[4.23,0.38],
  [3.94,0.46],[3.71,0.35],[3.56,0.14],[3.6,-0.23],[3.77,-0.4],[4.06,-0.48],[4.32,-0.35],[4.46,-0.06],[4.63,0.06],[4.58,0.35],
  [4.46,0.58],[4.17,0.67],[3.83,0.64],[3.48,0.48],[3.37,0.21],[3.33,-0.14],[3.43,-0.4],[3.66,-0.6],[3.94,-0.67],[4.23,-0.64],
  [4.52,-0.52],[4.67,-0.23],[4.71,0.44],[4.52,0.76],[4.12,0.86],[3.71,0.81],[3.31,0.58],[3.14,0.17],[3.17,-0.29],[3.43,-0.69],
  [3.77,-0.86],[4.17,-0.83],[4.58,-0.69],[4.81,-0.23],[4.9,0.14],[4.35,0.0],[3.88,0.32],[4.14,-0.35],[3.66,0.0],[4.0,0.02]
];

// ---- helpers ----
const tickFont = { family: 'DejaVu Sans', size: 22 };
const labelFont = { family: 'DejaVu Sans', size: 22.4, lineHeight: 1 };
const fmt = v => (v < 0 ? '\u2212' + Math.abs(v) : String(v));
const toXY = pts => pts.map(p => ({ x: p[0], y: p[1] }));

const class1Style = { pointStyle: 'circle', pointRadius: 7, borderWidth: 1.2,
  backgroundColor: 'rgba(255,0,0,0.5)', borderColor: 'rgba(255,0,0,0.5)' };
const class2Style = { pointStyle: 'crossRot', pointRadius: 9, borderWidth: 2.2,
  backgroundColor: 'rgba(0,0,255,0.5)', borderColor: 'rgba(0,0,255,0.5)' };
const poisonStyle = { pointStyle: 'rect', pointRadius: 8.8, borderWidth: 1.2,
  backgroundColor: 'rgba(128,0,128,0.5)', borderColor: 'rgba(128,0,128,0.5)' };

function drawMarker(ctx, ds, x, y, scale) {
  const r = ds.pointRadius * scale;
  const d = r * Math.SQRT1_2;
  ctx.save();
  ctx.fillStyle = ds.backgroundColor;
  ctx.strokeStyle = ds.borderColor;
  ctx.lineWidth = ds.borderWidth;
  ctx.beginPath();
  if (ds.pointStyle === 'circle') {
    ctx.arc(x, y, r, 0, Math.PI * 2);
    ctx.fill(); ctx.stroke();
  } else if (ds.pointStyle === 'crossRot') {
    ctx.moveTo(x - d, y - d); ctx.lineTo(x + d, y + d);
    ctx.moveTo(x + d, y - d); ctx.lineTo(x - d, y + d);
    ctx.stroke();
  } else {
    ctx.rect(x - d, y - d, 2 * d, 2 * d);
    ctx.fill(); ctx.stroke();
  }
  ctx.restore();
}

// dashed rings + frame, drawn over the points
const ringsAndFrame = {
  id: 'ringsAndFrame',
  afterDatasetsDraw(chart) {
    const { ctx, chartArea: a, scales: { x, y } } = chart;
    ctx.save();
    ctx.beginPath();
    ctx.rect(a.left, a.top, a.right - a.left, a.bottom - a.top);
    ctx.clip();
    ctx.strokeStyle = '#000';
    ctx.lineWidth = 3.6;
    ctx.setLineDash([12, 6.5]);
    clusterCenters.forEach(([cx, cy]) => {
      const px = x.getPixelForValue(cx), py = y.getPixelForValue(cy);
      const rx = Math.abs(x.getPixelForValue(cx + ringRadius) - px);
      const ry = Math.abs(y.getPixelForValue(cy + ringRadius) - py);
      ctx.beginPath();
      ctx.ellipse(px, py, rx, ry, 0, 0, Math.PI * 2);
      ctx.stroke();
    });
    ctx.restore();
    ctx.save();
    ctx.strokeStyle = '#000';
    ctx.lineWidth = 1.6;
    ctx.strokeRect(a.left, a.top, a.right - a.left, a.bottom - a.top);
    ctx.restore();
  }
};

// matplotlib-like legend box inside the axes
const boxLegend = {
  id: 'boxLegend',
  afterDraw(chart, args, opts) {
    const { ctx, chartArea: a } = chart;
    const items = chart.data.datasets.filter(d => d.inLegend);
    ctx.save();
    ctx.font = `${opts.fontSize}px "DejaVu Sans"`;
    const textW = Math.max(...items.map(d => ctx.measureText(d.label).width));
    const w = 74 + textW + 12;
    const h = 20.6 + (items.length - 1) * 34.6 + 21;
    const left = opts.side === 'right' ? a.right - 12.3 - w : a.left + 12;
    const top = a.top + 12.8;
    ctx.beginPath();
    ctx.roundRect(left, top, w, h, 4);
    ctx.fillStyle = 'rgba(255,255,255,0.8)';
    ctx.fill();
    ctx.strokeStyle = '#d0d0d0';
    ctx.lineWidth = 1;
    ctx.stroke();
    items.forEach((d, i) => {
      const cy = top + 20.2 + i * 34.6;
      drawMarker(ctx, d, left + 32.5, cy, 1.0);
      ctx.fillStyle = '#000';
      ctx.textBaseline = 'middle';
      ctx.textAlign = 'left';
      ctx.fillText(d.label, left + 74, cy + 1);
    });
    ctx.restore();
  }
};

function makeScales(xRange, yRange, xHeight) {
  const common = {
    type: 'linear',
    grid: { drawOnChartArea: false, drawTicks: true, tickLength: 8, color: '#000', lineWidth: 1.5 },
    border: { display: false },
    ticks: { color: '#000', font: tickFont, padding: 7, autoSkip: false, maxRotation: 0, callback: v => fmt(v) }
  };
  return {
    x: {
      ...common, min: xRange[0], max: xRange[1],
      afterBuildTicks: s => { s.ticks = xTicks.map(v => ({ value: v })); },
      afterFit: s => { s.height = xHeight; },
      title: { display: true, text: 'Feature 1', color: '#000', font: labelFont, padding: { top: 0, bottom: 0 } }
    },
    y: {
      ...common, min: yRange[0], max: yRange[1],
      afterBuildTicks: s => { s.ticks = yTicks.map(v => ({ value: v })); },
      afterFit: s => { s.width = 100; },
      title: { display: true, text: 'Feature 2', color: '#000', font: labelFont, padding: { top: 16, bottom: 0 } }
    }
  };
}

function boundarySet(pts) {
  return { label: 'boundary', data: toXY(pts), showLine: true, pointRadius: 0,
    borderColor: '#007a00', borderWidth: 4, fill: false, order: 1 };
}

function makeChart(id, datasets, xRange, yRange, xHeight, padRight, legendSide) {
  return new Chart(document.getElementById(id), {
    type: 'scatter',
    data: { datasets },
    options: {
      responsive: false, animation: false, devicePixelRatio: 1,
      layout: { padding: { top: 8, right: padRight, bottom: 0, left: 0 } },
      plugins: { legend: { display: false }, tooltip: { enabled: false },
        boxLegend: { side: legendSide, fontSize: 22.5 } },
      scales: makeScales(xRange, yRange, xHeight)
    },
    plugins: [ringsAndFrame, boxLegend]
  });
}

const leftChart = makeChart('leftChart', [
  { label: 'Class 1', data: toXY(leftClass1), ...class1Style, order: 4, inLegend: true },
  { label: 'Class 2', data: toXY(leftClass2), ...class2Style, order: 3, inLegend: true },
  boundarySet(leftBoundary)
], leftXRange, leftYRange, 70, 32, 'right');

const rightChart = makeChart('rightChart', [
  { label: 'Class 1', data: toXY(rightClass1), ...class1Style, order: 4, inLegend: true },
  { label: 'Class 2', data: toXY(rightClass2), ...class2Style, order: 3, inLegend: true },
  { label: 'Poisoned Class 2', data: toXY(rightPoisoned), ...poisonStyle, order: 2, inLegend: true },
  boundarySet(rightBoundary)
], rightXRange, rightYRange, 68, 16, 'left');

// ---- slide overlay: arrow and callout ----
(function drawOverlay() {
  const ctx = document.getElementById('overlay').getContext('2d');
  const rightOffset = document.getElementById('rightChart').offsetLeft;
  const x0 = leftChart.scales.x.getPixelForValue(arrowFrom[0]);
  const y0 = leftChart.scales.y.getPixelForValue(arrowFrom[1]) - 2;
  const x1 = rightOffset + rightChart.scales.x.getPixelForValue(arrowTo[0]);
  const headLen = 25, headHalf = 11;
  ctx.fillStyle = 'rgb(164,152,216)';
  ctx.fillRect(x0, y0 - 3.5, x1 - headLen - x0, 7);
  ctx.beginPath();
  ctx.moveTo(x1, y0);
  ctx.lineTo(x1 - headLen, y0 - headHalf);
  ctx.lineTo(x1 - headLen, y0 + headHalf);
  ctx.closePath();
  ctx.fill();

  ctx.fillStyle = 'rgb(199,189,229)';
  ctx.fillRect(447, 571, 966, 97);
  ctx.font = '61px Lato';
  const w = ctx.measureText(calloutText).width;
  ctx.save();
  ctx.translate(469, 638);
  ctx.scale(929 / w, 1);
  ctx.fillStyle = '#7030a0';
  ctx.textBaseline = 'alphabetic';
  ctx.fillText(calloutText, 0, 0);
  ctx.restore();
})();
</script>
</body>
</html>
